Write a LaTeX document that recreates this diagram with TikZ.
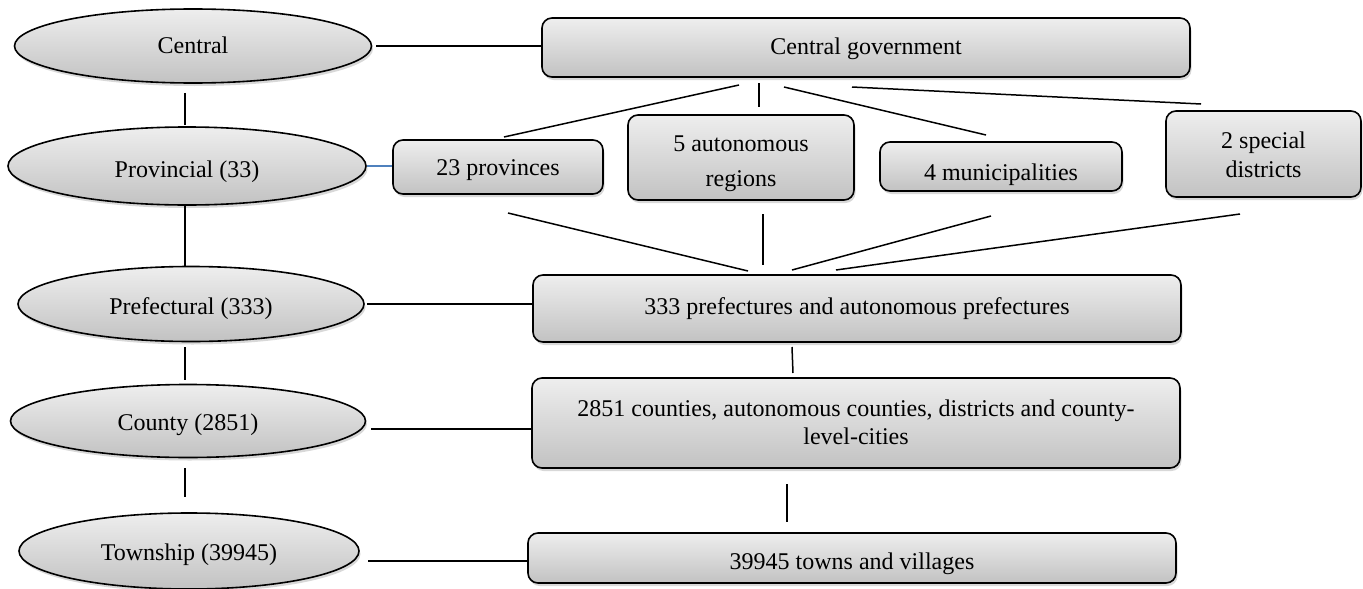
\documentclass[tikz,border=0pt]{standalone}
\usepackage{fontspec}
\setmainfont{Liberation Serif}
\usetikzlibrary{shapes.geometric,shadows,calc}
\definecolor{gtop}{RGB}{238,238,238}
\definecolor{gbot}{RGB}{194,194,194}
\definecolor{linkblue}{RGB}{79,129,189}
\newcommand{\mydown}[2]{\raisebox{-#1}[\height][\depth]{\begin{tabular}{@{}c@{}}#2\end{tabular}}}
\tikzset{
  shapebase/.style={draw=black, line width=1.6pt, top color=gtop, bottom color=gbot,
    drop shadow={shadow xshift=1.5pt, shadow yshift=-3pt, opacity=0.3},
    font=\fontsize{24}{28}\selectfont, inner sep=0pt, align=center},
  levelshape/.style={shapebase, ellipse},
  unitbox/.style={shapebase, rectangle, rounded corners=10pt},
  conn/.style={draw=black, line width=1.5pt},
  bluelink/.style={draw=linkblue, line width=1.5pt}
}
\begin{document}
\begin{tikzpicture}[x=1pt,y=-1pt]
\useasboundingbox (0,0) rectangle (1363,589);
\fill[white] (0,0) rectangle (1363,589);

% left level ellipses
\node[levelshape, minimum width=357pt, minimum height=74pt] (cen) at (193,46) {\mydown{2pt}{Central}};
\node[levelshape, minimum width=358pt, minimum height=78pt] (prov) at (187,166) {\mydown{6pt}{Provincial (33)}};
\node[levelshape, minimum width=346pt, minimum height=75pt] (pref) at (191,304) {\mydown{5pt}{Prefectural (333)}};
\node[levelshape, minimum width=355pt, minimum height=73pt] (cty) at (188,421) {\mydown{4pt}{County (2851)}};
\node[levelshape, minimum width=340pt, minimum height=76pt] (twp) at (189,551) {\mydown{4pt}{Township (39945)}};

% right unit boxes
\node[unitbox, minimum width=648pt, minimum height=59pt] (cg) at (866,47.5) {\mydown{1pt}{Central government}};
\node[unitbox, minimum width=210pt, minimum height=54pt] (p23) at (498,167) {\mydown{3pt}{23 provinces}};
\node[unitbox, minimum width=226pt, minimum height=85pt] (a5) at (741,157.5) {\mydown{6pt}{5 autonomous\\[7pt]regions}};
\node[unitbox, minimum width=242pt, minimum height=49pt] (m4) at (1001,166.5) {\mydown{8pt}{4 municipalities}};
\node[unitbox, minimum width=195pt, minimum height=86pt] (s2) at (1263.5,154) {\mydown{3pt}{2 special\\[1pt]districts}};
\node[unitbox, minimum width=648pt, minimum height=67pt] (pf) at (857,308.5) {333 prefectures and autonomous prefectures};
\node[unitbox, minimum width=648pt, minimum height=90pt] (ct) at (856,423) {\mydown{2pt}{2851 counties, autonomous counties, districts and county-\\level-cities}};
\node[unitbox, minimum width=648pt, minimum height=50pt] (tw) at (852,558) {\mydown{6pt}{39945 towns and villages}};

% vertical guide for the left column
\coordinate (vx) at (185,0);

% left column connectors
\draw[conn, shorten <=9pt, shorten >=1pt] (cen.south -| vx) -- (prov.north -| vx);
\draw[conn] (prov.south -| vx) -- (pref.north -| vx);
\draw[conn, shorten <=5pt, shorten >=4pt] (pref.south -| vx) -- (cty.north -| vx);
\draw[conn, shorten <=10pt, shorten >=15pt] (cty.south -| vx) -- (twp.north -| vx);

% level-to-unit connectors
\draw[conn, shorten <=4pt] (cen.east) -- (cen.east -| cg.west);
\draw[bluelink] (prov.east) -- (prov.east -| p23.west);
\draw[conn, shorten <=2pt] (pref.east) -- (pref.east -| pf.west);
\draw[conn, shorten >=5pt] ([yshift=-6pt]ct.west) -- ([yshift=-6pt]ct.west -| cty.east);
\draw[conn, shorten >=8pt] ([yshift=-3pt]tw.west) -- ([yshift=-3pt]tw.west -| twp.east);

% fan from central government
\coordinate (f1a) at (739,85);  \coordinate (f1b) at (504,137);
\coordinate (f2a) at (759,83);  \coordinate (f2b) at (759,107);
\coordinate (f3a) at (784,87);  \coordinate (f3b) at (986,135);
\coordinate (f4a) at (852,87);  \coordinate (f4b) at (1201,104);
\draw[conn] (f1a) -- (f1b);
\draw[conn] (f2a) -- (f2b);
\draw[conn] (f3a) -- (f3b);
\draw[conn] (f4a) -- (f4b);

% fan into prefectures
\coordinate (g1a) at (508,213);  \coordinate (g1b) at (748,271);
\coordinate (g2a) at (763,214);  \coordinate (g2b) at (763,265);
\coordinate (g3a) at (991,216);  \coordinate (g3b) at (792,270);
\coordinate (g4a) at (1240,214); \coordinate (g4b) at (836,270);
\draw[conn] (g1a) -- (g1b);
\draw[conn] (g2a) -- (g2b);
\draw[conn] (g3a) -- (g3b);
\draw[conn] (g4a) -- (g4b);

% lower vertical links
\coordinate (h1a) at (792,347); \coordinate (h1b) at (793,373);
\coordinate (h2a) at (787,484); \coordinate (h2b) at (787,522);
\draw[conn] (h1a) -- (h1b);
\draw[conn] (h2a) -- (h2b);
\end{tikzpicture}
\end{document}
